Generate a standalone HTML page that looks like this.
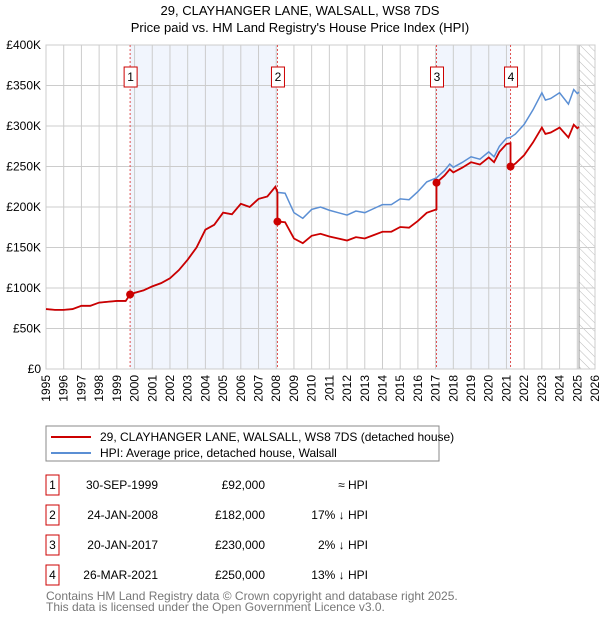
<!DOCTYPE html>
<html><head><meta charset="utf-8">
<style>
body{margin:0;background:#fff;font-family:"Liberation Sans","DejaVu Sans",sans-serif;}
svg text{font-family:"Liberation Sans","DejaVu Sans",sans-serif;}
</style></head>
<body>
<svg id="c" width="600" height="620" viewBox="0 0 600 620" xmlns="http://www.w3.org/2000/svg">
<defs>
<pattern id="hatch" width="6" height="6" patternUnits="userSpaceOnUse" patternTransform="rotate(-45)">
<line x1="0" y1="0" x2="0" y2="6" stroke="#bbb" stroke-width="1"/>
</pattern>
</defs>
<text x="300" y="15" text-anchor="middle" font-size="13">29, CLAYHANGER LANE, WALSALL, WS8 7DS</text>
<text x="300" y="32" text-anchor="middle" font-size="13">Price paid vs. HM Land Registry's House Price Index (HPI)</text>
<g id="plot"></g>
<g id="legend">
<rect x="46" y="426" width="393" height="35" fill="#fff" stroke="#888"/>
<line x1="51" y1="437" x2="91" y2="437" stroke="#cc0000" stroke-width="2"/>
<text x="100" y="441" font-size="12">29, CLAYHANGER LANE, WALSALL, WS8 7DS (detached house)</text>
<line x1="51" y1="453" x2="91" y2="453" stroke="#5b8fd4" stroke-width="2"/>
<text x="100" y="457" font-size="12">HPI: Average price, detached house, Walsall</text>
</g>
<g id="table"></g>
<text x="46" y="600" font-size="12" fill="#777">Contains HM Land Registry data © Crown copyright and database right 2025.</text>
<text x="46" y="611" font-size="12" fill="#777">This data is licensed under the Open Government Licence v3.0.</text>
</svg>
<script>
const hpiYears=[1995.0,1995.5,1996.0,1996.5,1997.0,1997.5,1998.0,1998.5,1999.0,1999.5,1999.75,2000.0,2000.5,2001.0,2001.5,2002.0,2002.5,2003.0,2003.5,2004.0,2004.5,2005.0,2005.5,2006.0,2006.5,2007.0,2007.5,2007.95,2008.07,2008.5,2009.0,2009.5,2010.0,2010.5,2011.0,2011.5,2012.0,2012.5,2013.0,2013.5,2014.0,2014.5,2015.0,2015.5,2016.0,2016.5,2017.05,2017.5,2017.8,2018.0,2018.5,2019.0,2019.5,2020.0,2020.3,2020.6,2021.0,2021.23,2021.5,2022.0,2022.5,2023.0,2023.2,2023.5,2024.0,2024.5,2024.8,2025.0,2025.1];
const hpiValues=[74,73,73,74,78,78,82,83,84,84,92,94,97,102,106,112,122,135,150,172,178,193,191,204,200,210,213,225,218,217,193,186,197,200,196,193,190,195,193,198,203,203,210,209,219,231,236,245,253,249,255,262,259,268,262,275,285,286,290,302,320,341,332,334,341,327,345,340,342];
const saleYears=[1999.75,2008.07,2017.05,2021.23];
const salePrices=[92,182,230,250];
const saleDates=["30-SEP-1999","24-JAN-2008","20-JAN-2017","26-MAR-2021"];
const salePriceLabels=["£92,000","£182,000","£230,000","£250,000"];
const saleHpiLabels=["≈ HPI","17% ↓ HPI","2% ↓ HPI","13% ↓ HPI"];
const yTicks=[0,50,100,150,200,250,300,350,400];
const yTickLabels=["£0","£50K","£100K","£150K","£200K","£250K","£300K","£350K","£400K"];
const xTicks=[1995,1996,1997,1998,1999,2000,2001,2002,2003,2004,2005,2006,2007,2008,2009,2010,2011,2012,2013,2014,2015,2016,2017,2018,2019,2020,2021,2022,2023,2024,2025,2026];

const L=46,R=595,T=45,B=369;
const xs=t=>L+(t-1995)/(2026-1995)*(R-L);
const ys=v=>B-v/400*(B-T);
const NS="http://www.w3.org/2000/svg";
const plot=document.getElementById('plot');
function mk(tag,attrs,parent){const e=document.createElementNS(NS,tag);for(const k in attrs)e.setAttribute(k,attrs[k]);(parent||plot).appendChild(e);return e;}
function hpiAt(t){for(let i=0;i<hpiYears.length-1;i++){if(t>=hpiYears[i]&&t<=hpiYears[i+1]){const f=(t-hpiYears[i])/(hpiYears[i+1]-hpiYears[i]);return hpiValues[i]+f*(hpiValues[i+1]-hpiValues[i]);}}return hpiValues[hpiValues.length-1];}

for(let i=0;i<saleYears.length;i+=2){
  const s=mk('rect',{x:xs(saleYears[i]),y:T,width:xs(saleYears[i+1])-xs(saleYears[i]),height:B-T,fill:'#eef3fc',opacity:0.8});
  
  
}
const h=mk('rect',{x:xs(2025.1),y:T,width:R-xs(2025.1),height:B-T,fill:'url(#hatch)'});


mk('line',{x1:xs(2025.1),y1:T,x2:xs(2025.1),y2:B,stroke:'#999','stroke-width':1});
yTicks.forEach((v,i)=>{
  mk('line',{x1:L,y1:ys(v),x2:R,y2:ys(v),stroke:'#ccc','stroke-width':1});
  const t=mk('text',{x:L-5,y:ys(v)+4,'text-anchor':'end','font-size':12});
  t.textContent=yTickLabels[i];
  
  
});
xTicks.forEach(yr=>{
  mk('line',{x1:xs(yr),y1:T,x2:xs(yr),y2:B,stroke:'#ccc','stroke-width':1});
  const t=mk('text',{x:0,y:0,'text-anchor':'end','font-size':12,transform:`translate(${xs(yr)+4},${B+6}) rotate(-90)`});
  t.textContent=yr;
  
  
});
mk('rect',{x:L,y:T,width:R-L,height:B-T,fill:'none',stroke:'#ccc'});
saleYears.forEach((t,i)=>{
  const l=mk('line',{x1:xs(t),y1:T,x2:xs(t),y2:B,stroke:'#e05050','stroke-width':1,'stroke-dasharray':'2,2'});
  
  
  const bx=mk('rect',{x:xs(t)-6,y:67,width:13,height:20,fill:'#fff',stroke:'#cc0000'});
  
  
  const tx=mk('text',{x:xs(t)+0.5,y:81,'text-anchor':'middle','font-size':12});
  tx.textContent=i+1;
  
  
});
const hp=mk('polyline',{points:hpiYears.map((t,i)=>xs(t)+','+ys(hpiValues[i])).join(' '),fill:'none',stroke:'#5b8fd4','stroke-width':1.5});


const factors=saleYears.map((t,i)=>salePrices[i]/hpiAt(t));
const pts=[];
function segFactor(t){let f=factors[0];for(let k=0;k<saleYears.length;k++){if(t>=saleYears[k])f=factors[k];}return f;}
let si=0;
hpiYears.forEach((t,i)=>{
  while(si<saleYears.length&&saleYears[si]<=t){
    const st=saleYears[si];
    const prevF=si>0?factors[si-1]:factors[0];
    pts.push([st,hpiAt(st)*prevF]);
    pts.push([st,salePrices[si]]);
    si++;
  }
  pts.push([t,hpiValues[i]*segFactor(t)]);
});
const pl=mk('polyline',{points:pts.map(p=>xs(p[0])+','+ys(p[1])).join(' '),fill:'none',stroke:'#cc0000','stroke-width':1.8});


saleYears.forEach((t,i)=>{
  const c=mk('circle',{cx:xs(t),cy:ys(salePrices[i]),r:4,fill:'#cc0000'});
  
  
});
const tb=document.getElementById('table');
saleDates.forEach((d,i)=>{
  const y=484+i*30;
  const r=mk('rect',{x:46,y:y-9,width:13,height:20,fill:'#fff',stroke:'#cc0000'},tb);
  
  
  const n=mk('text',{x:52.5,y:y+5,'text-anchor':'middle','font-size':12},tb);
  n.textContent=i+1;
  
  
  const a=mk('text',{x:158,y:y+5,'text-anchor':'end','font-size':12},tb);
  a.textContent=d;
  
  
  const b=mk('text',{x:265,y:y+5,'text-anchor':'end','font-size':12},tb);
  b.textContent=salePriceLabels[i];
  
  
  const c=mk('text',{x:368,y:y+5,'text-anchor':'end','font-size':12},tb);
  c.textContent=saleHpiLabels[i];
  
  
});
</script>
</body></html>
